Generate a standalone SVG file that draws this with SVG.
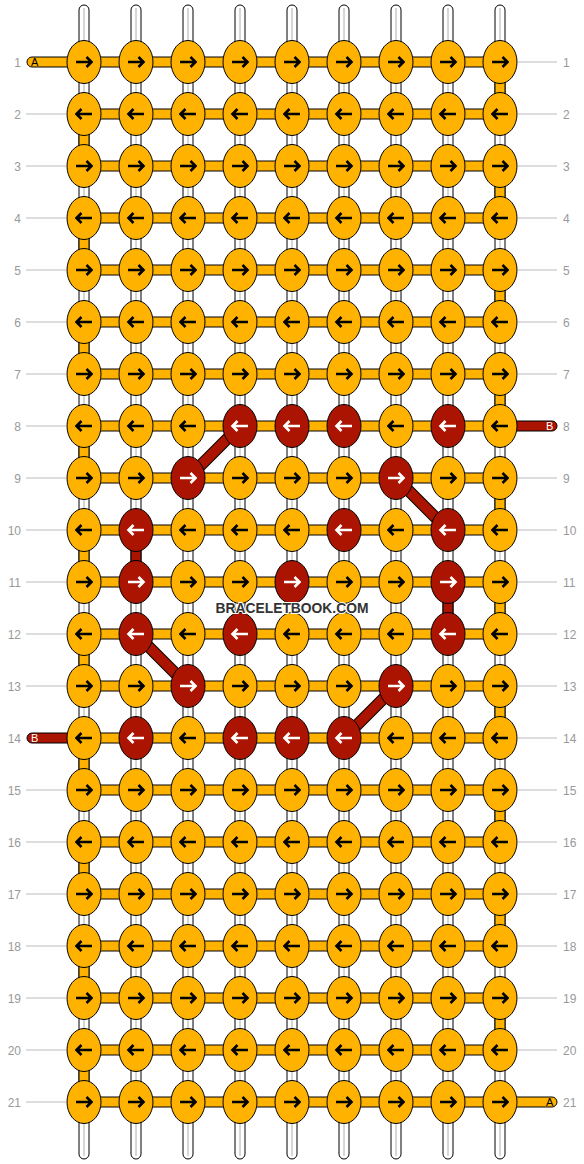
<svg xmlns="http://www.w3.org/2000/svg" xmlns:xlink="http://www.w3.org/1999/xlink" width="584" height="1164" viewBox="0 0 584 1164">
<style>
.str{fill:#fff;stroke:#000;stroke-width:1}
.mid{stroke:#c8c8c8;stroke-width:1.5}
.bar{fill:#FFB300;stroke:#000;stroke-width:1}
.rbar{fill:#AA1400;stroke:#000;stroke-width:1}
.gl{stroke:#bbb;stroke-width:1}
.lab{font-family:"Liberation Sans",Arial,sans-serif;font-size:12px;fill:#999}
.ll{text-anchor:end}
.lt{font-family:"Liberation Sans",Arial,sans-serif;font-size:11px}
.o{fill:#FFB300;color:#000}
.x{fill:#AA1400;color:#fff}
.dk{stroke:#000;stroke-width:12}
.dr{stroke:#AA1400;stroke-width:10}
.wm{font-family:"Liberation Sans",Arial,sans-serif;font-weight:bold;font-size:15px;fill:#333;stroke:#fff;stroke-width:2;paint-order:stroke;text-anchor:middle}
</style>
<defs>
<g id="R"><ellipse rx="17" ry="21.5" stroke="#000" stroke-width="1"/><path d="M-8,0H7M2.5,-5L7.5,0L2.5,5" fill="none" stroke="currentColor" stroke-width="2.6"/></g>
<g id="L"><ellipse rx="17" ry="21.5" stroke="#000" stroke-width="1"/><path d="M8,0H-7M-2.5,-5L-7.5,0L-2.5,5" fill="none" stroke="currentColor" stroke-width="2.6"/></g>
</defs>
<g id="labels">
<g class="gl">
<line x1="518" y1="62" x2="557" y2="62"/>
<line x1="26" y1="114" x2="66" y2="114"/><line x1="518" y1="114" x2="557" y2="114"/>
<line x1="26" y1="166" x2="66" y2="166"/><line x1="518" y1="166" x2="557" y2="166"/>
<line x1="26" y1="218" x2="66" y2="218"/><line x1="518" y1="218" x2="557" y2="218"/>
<line x1="26" y1="270" x2="66" y2="270"/><line x1="518" y1="270" x2="557" y2="270"/>
<line x1="26" y1="322" x2="66" y2="322"/><line x1="518" y1="322" x2="557" y2="322"/>
<line x1="26" y1="374" x2="66" y2="374"/><line x1="518" y1="374" x2="557" y2="374"/>
<line x1="26" y1="426" x2="66" y2="426"/>
<line x1="26" y1="478" x2="66" y2="478"/><line x1="518" y1="478" x2="557" y2="478"/>
<line x1="26" y1="530" x2="66" y2="530"/><line x1="518" y1="530" x2="557" y2="530"/>
<line x1="26" y1="582" x2="66" y2="582"/><line x1="518" y1="582" x2="557" y2="582"/>
<line x1="26" y1="634" x2="66" y2="634"/><line x1="518" y1="634" x2="557" y2="634"/>
<line x1="26" y1="686" x2="66" y2="686"/><line x1="518" y1="686" x2="557" y2="686"/>
<line x1="518" y1="738" x2="557" y2="738"/>
<line x1="26" y1="790" x2="66" y2="790"/><line x1="518" y1="790" x2="557" y2="790"/>
<line x1="26" y1="842" x2="66" y2="842"/><line x1="518" y1="842" x2="557" y2="842"/>
<line x1="26" y1="894" x2="66" y2="894"/><line x1="518" y1="894" x2="557" y2="894"/>
<line x1="26" y1="946" x2="66" y2="946"/><line x1="518" y1="946" x2="557" y2="946"/>
<line x1="26" y1="998" x2="66" y2="998"/><line x1="518" y1="998" x2="557" y2="998"/>
<line x1="26" y1="1050" x2="66" y2="1050"/><line x1="518" y1="1050" x2="557" y2="1050"/>
<line x1="26" y1="1102" x2="66" y2="1102"/>
</g>
<g class="lab ll">
<text x="21" y="66.5">1</text><text x="21" y="118.5">2</text><text x="21" y="170.5">3</text><text x="21" y="222.5">4</text><text x="21" y="274.5">5</text><text x="21" y="326.5">6</text><text x="21" y="378.5">7</text><text x="21" y="430.5">8</text><text x="21" y="482.5">9</text><text x="21" y="534.5">10</text><text x="21" y="586.5">11</text><text x="21" y="638.5">12</text><text x="21" y="690.5">13</text><text x="21" y="742.5">14</text><text x="21" y="794.5">15</text><text x="21" y="846.5">16</text><text x="21" y="898.5">17</text><text x="21" y="950.5">18</text><text x="21" y="1002.5">19</text><text x="21" y="1054.5">20</text><text x="21" y="1106.5">21</text>
</g>
<g class="lab">
<text x="563" y="66.5">1</text><text x="563" y="118.5">2</text><text x="563" y="170.5">3</text><text x="563" y="222.5">4</text><text x="563" y="274.5">5</text><text x="563" y="326.5">6</text><text x="563" y="378.5">7</text><text x="563" y="430.5">8</text><text x="563" y="482.5">9</text><text x="563" y="534.5">10</text><text x="563" y="586.5">11</text><text x="563" y="638.5">12</text><text x="563" y="690.5">13</text><text x="563" y="742.5">14</text><text x="563" y="794.5">15</text><text x="563" y="846.5">16</text><text x="563" y="898.5">17</text><text x="563" y="950.5">18</text><text x="563" y="1002.5">19</text><text x="563" y="1054.5">20</text><text x="563" y="1106.5">21</text>
</g>
</g>
<g id="connectors">
<g id="strings">
<rect class="str" x="79" y="5" width="10" height="1154" rx="5"/>
<rect class="str" x="131" y="5" width="10" height="1154" rx="5"/>
<rect class="str" x="183" y="5" width="10" height="1154" rx="5"/>
<rect class="str" x="235" y="5" width="10" height="1154" rx="5"/>
<rect class="str" x="287" y="5" width="10" height="1154" rx="5"/>
<rect class="str" x="339" y="5" width="10" height="1154" rx="5"/>
<rect class="str" x="391" y="5" width="10" height="1154" rx="5"/>
<rect class="str" x="443" y="5" width="10" height="1154" rx="5"/>
<rect class="str" x="495" y="5" width="10" height="1154" rx="5"/>
<g class="mid">
<line x1="84" y1="8" x2="84" y2="1156"/><line x1="136" y1="8" x2="136" y2="1156"/><line x1="188" y1="8" x2="188" y2="1156"/><line x1="240" y1="8" x2="240" y2="1156"/><line x1="292" y1="8" x2="292" y2="1156"/><line x1="344" y1="8" x2="344" y2="1156"/><line x1="396" y1="8" x2="396" y2="1156"/><line x1="448" y1="8" x2="448" y2="1156"/><line x1="500" y1="8" x2="500" y2="1156"/>
</g>
</g>
<g id="turns" class="bar">
<rect x="495" y="62" width="10" height="52"/><rect x="495" y="166" width="10" height="52"/><rect x="495" y="270" width="10" height="52"/><rect x="495" y="374" width="10" height="52"/><rect x="495" y="478" width="10" height="52"/><rect x="495" y="582" width="10" height="52"/><rect x="495" y="686" width="10" height="52"/><rect x="495" y="790" width="10" height="52"/><rect x="495" y="894" width="10" height="52"/><rect x="495" y="998" width="10" height="52"/>
<rect x="79" y="114" width="10" height="52"/><rect x="79" y="218" width="10" height="52"/><rect x="79" y="322" width="10" height="52"/><rect x="79" y="426" width="10" height="52"/><rect x="79" y="530" width="10" height="52"/><rect x="79" y="634" width="10" height="52"/><rect x="79" y="738" width="10" height="52"/><rect x="79" y="842" width="10" height="52"/><rect x="79" y="946" width="10" height="52"/><rect x="79" y="1050" width="10" height="52"/>
</g>
<g id="redvert" class="rbar">
<rect x="131" y="530" width="10" height="52"/><rect x="443" y="582" width="10" height="52"/>
</g>
<g id="rows" class="bar">
<rect x="84" y="57" width="416" height="10"/><rect x="84" y="109" width="416" height="10"/><rect x="84" y="161" width="416" height="10"/><rect x="84" y="213" width="416" height="10"/><rect x="84" y="265" width="416" height="10"/><rect x="84" y="317" width="416" height="10"/><rect x="84" y="369" width="416" height="10"/><rect x="84" y="421" width="416" height="10"/><rect x="84" y="473" width="416" height="10"/><rect x="84" y="525" width="416" height="10"/><rect x="84" y="577" width="416" height="10"/><rect x="84" y="629" width="416" height="10"/><rect x="84" y="681" width="416" height="10"/><rect x="84" y="733" width="416" height="10"/><rect x="84" y="785" width="416" height="10"/><rect x="84" y="837" width="416" height="10"/><rect x="84" y="889" width="416" height="10"/><rect x="84" y="941" width="416" height="10"/><rect x="84" y="993" width="416" height="10"/><rect x="84" y="1045" width="416" height="10"/><rect x="84" y="1097" width="416" height="10"/>
</g>
<g id="leads">
<path class="bar" d="M84,57H32A5,5 0 0 0 32,67H84Z"/>
<path class="rbar" d="M84,733H32A5,5 0 0 0 32,743H84Z"/>
<path class="rbar" d="M500,421H552A5,5 0 0 1 552,431H500Z"/>
<path class="bar" d="M500,1097H552A5,5 0 0 1 552,1107H500Z"/>
<text class="lt" x="31" y="66" fill="#000">A</text>
<text class="lt" x="31" y="742" fill="#fff">B</text>
<text class="lt" x="546" y="430" fill="#fff">B</text>
<text class="lt" x="546" y="1106" fill="#000">A</text>
</g>
<g id="diagonals">
<line class="dk" x1="240" y1="426" x2="188" y2="478"/><line class="dr" x1="240" y1="426" x2="188" y2="478"/>
<line class="dk" x1="396" y1="478" x2="448" y2="530"/><line class="dr" x1="396" y1="478" x2="448" y2="530"/>
<line class="dk" x1="136" y1="634" x2="188" y2="686"/><line class="dr" x1="136" y1="634" x2="188" y2="686"/>
<line class="dk" x1="396" y1="686" x2="344" y2="738"/><line class="dr" x1="396" y1="686" x2="344" y2="738"/>
</g>
</g>
<g id="knots">
<g id="k1-1" class="o"><use href="#R" x="84" y="62"/></g><g id="k1-2" class="o"><use href="#R" x="136" y="62"/></g><g id="k1-3" class="o"><use href="#R" x="188" y="62"/></g><g id="k1-4" class="o"><use href="#R" x="240" y="62"/></g><g id="k1-5" class="o"><use href="#R" x="292" y="62"/></g><g id="k1-6" class="o"><use href="#R" x="344" y="62"/></g><g id="k1-7" class="o"><use href="#R" x="396" y="62"/></g><g id="k1-8" class="o"><use href="#R" x="448" y="62"/></g><g id="k1-9" class="o"><use href="#R" x="500" y="62"/></g>
<g id="k2-1" class="o"><use href="#L" x="84" y="114"/></g><g id="k2-2" class="o"><use href="#L" x="136" y="114"/></g><g id="k2-3" class="o"><use href="#L" x="188" y="114"/></g><g id="k2-4" class="o"><use href="#L" x="240" y="114"/></g><g id="k2-5" class="o"><use href="#L" x="292" y="114"/></g><g id="k2-6" class="o"><use href="#L" x="344" y="114"/></g><g id="k2-7" class="o"><use href="#L" x="396" y="114"/></g><g id="k2-8" class="o"><use href="#L" x="448" y="114"/></g><g id="k2-9" class="o"><use href="#L" x="500" y="114"/></g>
<g id="k3-1" class="o"><use href="#R" x="84" y="166"/></g><g id="k3-2" class="o"><use href="#R" x="136" y="166"/></g><g id="k3-3" class="o"><use href="#R" x="188" y="166"/></g><g id="k3-4" class="o"><use href="#R" x="240" y="166"/></g><g id="k3-5" class="o"><use href="#R" x="292" y="166"/></g><g id="k3-6" class="o"><use href="#R" x="344" y="166"/></g><g id="k3-7" class="o"><use href="#R" x="396" y="166"/></g><g id="k3-8" class="o"><use href="#R" x="448" y="166"/></g><g id="k3-9" class="o"><use href="#R" x="500" y="166"/></g>
<g id="k4-1" class="o"><use href="#L" x="84" y="218"/></g><g id="k4-2" class="o"><use href="#L" x="136" y="218"/></g><g id="k4-3" class="o"><use href="#L" x="188" y="218"/></g><g id="k4-4" class="o"><use href="#L" x="240" y="218"/></g><g id="k4-5" class="o"><use href="#L" x="292" y="218"/></g><g id="k4-6" class="o"><use href="#L" x="344" y="218"/></g><g id="k4-7" class="o"><use href="#L" x="396" y="218"/></g><g id="k4-8" class="o"><use href="#L" x="448" y="218"/></g><g id="k4-9" class="o"><use href="#L" x="500" y="218"/></g>
<g id="k5-1" class="o"><use href="#R" x="84" y="270"/></g><g id="k5-2" class="o"><use href="#R" x="136" y="270"/></g><g id="k5-3" class="o"><use href="#R" x="188" y="270"/></g><g id="k5-4" class="o"><use href="#R" x="240" y="270"/></g><g id="k5-5" class="o"><use href="#R" x="292" y="270"/></g><g id="k5-6" class="o"><use href="#R" x="344" y="270"/></g><g id="k5-7" class="o"><use href="#R" x="396" y="270"/></g><g id="k5-8" class="o"><use href="#R" x="448" y="270"/></g><g id="k5-9" class="o"><use href="#R" x="500" y="270"/></g>
<g id="k6-1" class="o"><use href="#L" x="84" y="322"/></g><g id="k6-2" class="o"><use href="#L" x="136" y="322"/></g><g id="k6-3" class="o"><use href="#L" x="188" y="322"/></g><g id="k6-4" class="o"><use href="#L" x="240" y="322"/></g><g id="k6-5" class="o"><use href="#L" x="292" y="322"/></g><g id="k6-6" class="o"><use href="#L" x="344" y="322"/></g><g id="k6-7" class="o"><use href="#L" x="396" y="322"/></g><g id="k6-8" class="o"><use href="#L" x="448" y="322"/></g><g id="k6-9" class="o"><use href="#L" x="500" y="322"/></g>
<g id="k7-1" class="o"><use href="#R" x="84" y="374"/></g><g id="k7-2" class="o"><use href="#R" x="136" y="374"/></g><g id="k7-3" class="o"><use href="#R" x="188" y="374"/></g><g id="k7-4" class="o"><use href="#R" x="240" y="374"/></g><g id="k7-5" class="o"><use href="#R" x="292" y="374"/></g><g id="k7-6" class="o"><use href="#R" x="344" y="374"/></g><g id="k7-7" class="o"><use href="#R" x="396" y="374"/></g><g id="k7-8" class="o"><use href="#R" x="448" y="374"/></g><g id="k7-9" class="o"><use href="#R" x="500" y="374"/></g>
<g id="k8-1" class="o"><use href="#L" x="84" y="426"/></g><g id="k8-2" class="o"><use href="#L" x="136" y="426"/></g><g id="k8-3" class="o"><use href="#L" x="188" y="426"/></g><g id="k8-4" class="x"><use href="#L" x="240" y="426"/></g><g id="k8-5" class="x"><use href="#L" x="292" y="426"/></g><g id="k8-6" class="x"><use href="#L" x="344" y="426"/></g><g id="k8-7" class="o"><use href="#L" x="396" y="426"/></g><g id="k8-8" class="x"><use href="#L" x="448" y="426"/></g><g id="k8-9" class="o"><use href="#L" x="500" y="426"/></g>
<g id="k9-1" class="o"><use href="#R" x="84" y="478"/></g><g id="k9-2" class="o"><use href="#R" x="136" y="478"/></g><g id="k9-3" class="x"><use href="#R" x="188" y="478"/></g><g id="k9-4" class="o"><use href="#R" x="240" y="478"/></g><g id="k9-5" class="o"><use href="#R" x="292" y="478"/></g><g id="k9-6" class="o"><use href="#R" x="344" y="478"/></g><g id="k9-7" class="x"><use href="#R" x="396" y="478"/></g><g id="k9-8" class="o"><use href="#R" x="448" y="478"/></g><g id="k9-9" class="o"><use href="#R" x="500" y="478"/></g>
<g id="k10-1" class="o"><use href="#L" x="84" y="530"/></g><g id="k10-2" class="x"><use href="#L" x="136" y="530"/></g><g id="k10-3" class="o"><use href="#L" x="188" y="530"/></g><g id="k10-4" class="o"><use href="#L" x="240" y="530"/></g><g id="k10-5" class="o"><use href="#L" x="292" y="530"/></g><g id="k10-6" class="x"><use href="#L" x="344" y="530"/></g><g id="k10-7" class="o"><use href="#L" x="396" y="530"/></g><g id="k10-8" class="x"><use href="#L" x="448" y="530"/></g><g id="k10-9" class="o"><use href="#L" x="500" y="530"/></g>
<g id="k11-1" class="o"><use href="#R" x="84" y="582"/></g><g id="k11-2" class="x"><use href="#R" x="136" y="582"/></g><g id="k11-3" class="o"><use href="#R" x="188" y="582"/></g><g id="k11-4" class="o"><use href="#R" x="240" y="582"/></g><g id="k11-5" class="x"><use href="#R" x="292" y="582"/></g><g id="k11-6" class="o"><use href="#R" x="344" y="582"/></g><g id="k11-7" class="o"><use href="#R" x="396" y="582"/></g><g id="k11-8" class="x"><use href="#R" x="448" y="582"/></g><g id="k11-9" class="o"><use href="#R" x="500" y="582"/></g>
<g id="k12-1" class="o"><use href="#L" x="84" y="634"/></g><g id="k12-2" class="x"><use href="#L" x="136" y="634"/></g><g id="k12-3" class="o"><use href="#L" x="188" y="634"/></g><g id="k12-4" class="x"><use href="#L" x="240" y="634"/></g><g id="k12-5" class="o"><use href="#L" x="292" y="634"/></g><g id="k12-6" class="o"><use href="#L" x="344" y="634"/></g><g id="k12-7" class="o"><use href="#L" x="396" y="634"/></g><g id="k12-8" class="x"><use href="#L" x="448" y="634"/></g><g id="k12-9" class="o"><use href="#L" x="500" y="634"/></g>
<g id="k13-1" class="o"><use href="#R" x="84" y="686"/></g><g id="k13-2" class="o"><use href="#R" x="136" y="686"/></g><g id="k13-3" class="x"><use href="#R" x="188" y="686"/></g><g id="k13-4" class="o"><use href="#R" x="240" y="686"/></g><g id="k13-5" class="o"><use href="#R" x="292" y="686"/></g><g id="k13-6" class="o"><use href="#R" x="344" y="686"/></g><g id="k13-7" class="x"><use href="#R" x="396" y="686"/></g><g id="k13-8" class="o"><use href="#R" x="448" y="686"/></g><g id="k13-9" class="o"><use href="#R" x="500" y="686"/></g>
<g id="k14-1" class="o"><use href="#L" x="84" y="738"/></g><g id="k14-2" class="x"><use href="#L" x="136" y="738"/></g><g id="k14-3" class="o"><use href="#L" x="188" y="738"/></g><g id="k14-4" class="x"><use href="#L" x="240" y="738"/></g><g id="k14-5" class="x"><use href="#L" x="292" y="738"/></g><g id="k14-6" class="x"><use href="#L" x="344" y="738"/></g><g id="k14-7" class="o"><use href="#L" x="396" y="738"/></g><g id="k14-8" class="o"><use href="#L" x="448" y="738"/></g><g id="k14-9" class="o"><use href="#L" x="500" y="738"/></g>
<g id="k15-1" class="o"><use href="#R" x="84" y="790"/></g><g id="k15-2" class="o"><use href="#R" x="136" y="790"/></g><g id="k15-3" class="o"><use href="#R" x="188" y="790"/></g><g id="k15-4" class="o"><use href="#R" x="240" y="790"/></g><g id="k15-5" class="o"><use href="#R" x="292" y="790"/></g><g id="k15-6" class="o"><use href="#R" x="344" y="790"/></g><g id="k15-7" class="o"><use href="#R" x="396" y="790"/></g><g id="k15-8" class="o"><use href="#R" x="448" y="790"/></g><g id="k15-9" class="o"><use href="#R" x="500" y="790"/></g>
<g id="k16-1" class="o"><use href="#L" x="84" y="842"/></g><g id="k16-2" class="o"><use href="#L" x="136" y="842"/></g><g id="k16-3" class="o"><use href="#L" x="188" y="842"/></g><g id="k16-4" class="o"><use href="#L" x="240" y="842"/></g><g id="k16-5" class="o"><use href="#L" x="292" y="842"/></g><g id="k16-6" class="o"><use href="#L" x="344" y="842"/></g><g id="k16-7" class="o"><use href="#L" x="396" y="842"/></g><g id="k16-8" class="o"><use href="#L" x="448" y="842"/></g><g id="k16-9" class="o"><use href="#L" x="500" y="842"/></g>
<g id="k17-1" class="o"><use href="#R" x="84" y="894"/></g><g id="k17-2" class="o"><use href="#R" x="136" y="894"/></g><g id="k17-3" class="o"><use href="#R" x="188" y="894"/></g><g id="k17-4" class="o"><use href="#R" x="240" y="894"/></g><g id="k17-5" class="o"><use href="#R" x="292" y="894"/></g><g id="k17-6" class="o"><use href="#R" x="344" y="894"/></g><g id="k17-7" class="o"><use href="#R" x="396" y="894"/></g><g id="k17-8" class="o"><use href="#R" x="448" y="894"/></g><g id="k17-9" class="o"><use href="#R" x="500" y="894"/></g>
<g id="k18-1" class="o"><use href="#L" x="84" y="946"/></g><g id="k18-2" class="o"><use href="#L" x="136" y="946"/></g><g id="k18-3" class="o"><use href="#L" x="188" y="946"/></g><g id="k18-4" class="o"><use href="#L" x="240" y="946"/></g><g id="k18-5" class="o"><use href="#L" x="292" y="946"/></g><g id="k18-6" class="o"><use href="#L" x="344" y="946"/></g><g id="k18-7" class="o"><use href="#L" x="396" y="946"/></g><g id="k18-8" class="o"><use href="#L" x="448" y="946"/></g><g id="k18-9" class="o"><use href="#L" x="500" y="946"/></g>
<g id="k19-1" class="o"><use href="#R" x="84" y="998"/></g><g id="k19-2" class="o"><use href="#R" x="136" y="998"/></g><g id="k19-3" class="o"><use href="#R" x="188" y="998"/></g><g id="k19-4" class="o"><use href="#R" x="240" y="998"/></g><g id="k19-5" class="o"><use href="#R" x="292" y="998"/></g><g id="k19-6" class="o"><use href="#R" x="344" y="998"/></g><g id="k19-7" class="o"><use href="#R" x="396" y="998"/></g><g id="k19-8" class="o"><use href="#R" x="448" y="998"/></g><g id="k19-9" class="o"><use href="#R" x="500" y="998"/></g>
<g id="k20-1" class="o"><use href="#L" x="84" y="1050"/></g><g id="k20-2" class="o"><use href="#L" x="136" y="1050"/></g><g id="k20-3" class="o"><use href="#L" x="188" y="1050"/></g><g id="k20-4" class="o"><use href="#L" x="240" y="1050"/></g><g id="k20-5" class="o"><use href="#L" x="292" y="1050"/></g><g id="k20-6" class="o"><use href="#L" x="344" y="1050"/></g><g id="k20-7" class="o"><use href="#L" x="396" y="1050"/></g><g id="k20-8" class="o"><use href="#L" x="448" y="1050"/></g><g id="k20-9" class="o"><use href="#L" x="500" y="1050"/></g>
<g id="k21-1" class="o"><use href="#R" x="84" y="1102"/></g><g id="k21-2" class="o"><use href="#R" x="136" y="1102"/></g><g id="k21-3" class="o"><use href="#R" x="188" y="1102"/></g><g id="k21-4" class="o"><use href="#R" x="240" y="1102"/></g><g id="k21-5" class="o"><use href="#R" x="292" y="1102"/></g><g id="k21-6" class="o"><use href="#R" x="344" y="1102"/></g><g id="k21-7" class="o"><use href="#R" x="396" y="1102"/></g><g id="k21-8" class="o"><use href="#R" x="448" y="1102"/></g><g id="k21-9" class="o"><use href="#R" x="500" y="1102"/></g>
</g>
<text class="wm" x="292" y="612.5" textLength="153" lengthAdjust="spacingAndGlyphs">BRACELETBOOK.COM</text>
</svg>
